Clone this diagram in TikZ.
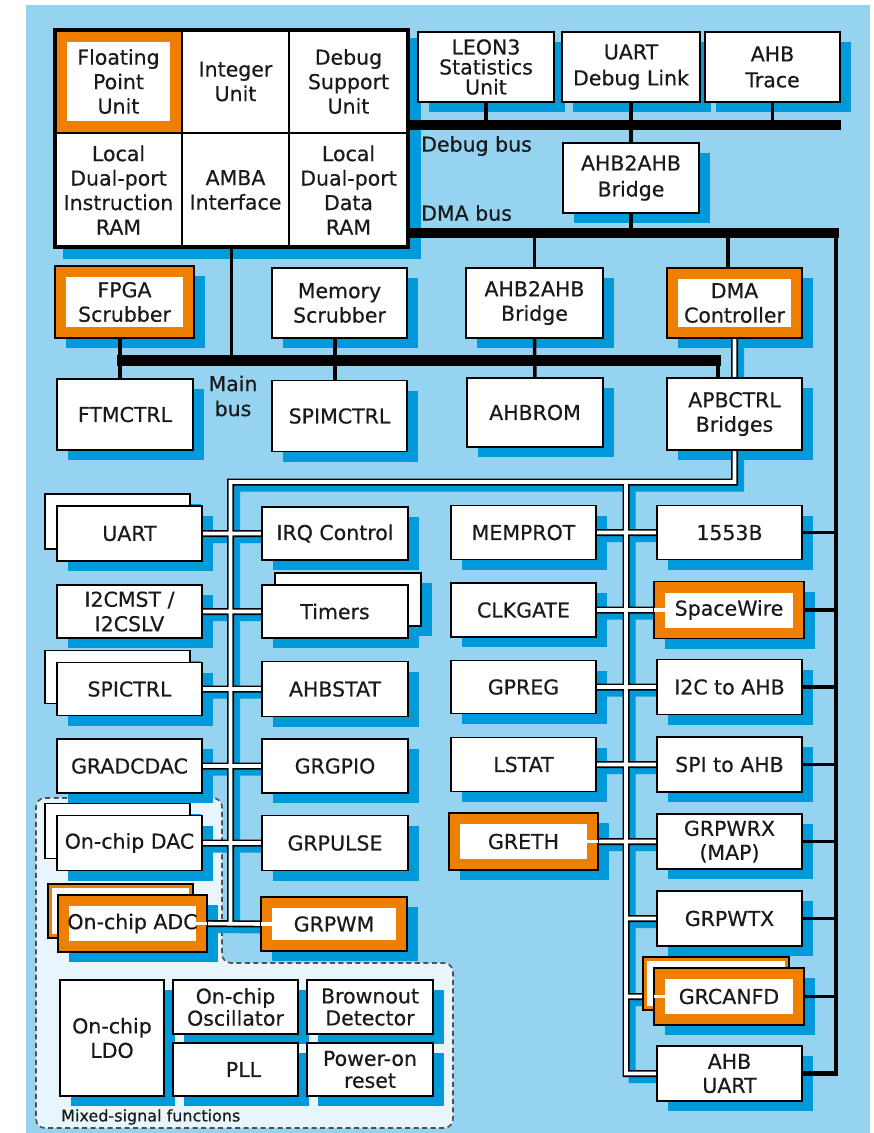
\documentclass[tikz,border=0pt]{standalone}
\usepackage{fontspec}
\setmainfont[FakeBold=0.5]{DejaVu Sans}
\usetikzlibrary{fit}

\definecolor{panel}{HTML}{96D3F0}
\definecolor{dropblue}{HTML}{0099D9}
\definecolor{grorange}{HTML}{EE7F00}
\definecolor{msfill}{HTML}{E8F5FC}
\definecolor{ink}{HTML}{1A1A1A}
\definecolor{dashgray}{HTML}{505050}

\pgfdeclarelayer{backdrop}
\pgfdeclarelayer{shadows}
\pgfdeclarelayer{wires}
\pgfsetlayers{backdrop,shadows,wires,main}

\tikzset{
  txt/.style={font=\fontsize{20.5}{24.5}\selectfont, text=ink},
  blk/.style={txt, draw=black, line width=1.8pt, fill=white, inner sep=0pt, outer sep=0pt, align=center},
  hotband/.style={path picture={\fill[white]
      ([shift={(#1,-#1)}]path picture bounding box.north west) rectangle
      ([shift={(-#1,#1)}]path picture bounding box.south east);}},
  hot/.style={blk, fill=grorange, hotband=11pt},
  hotback/.style={blk, fill=grorange, hotband=4pt},
  cell/.style={txt, draw=black, line width=2.8pt, fill=white, inner sep=0pt, outer sep=0pt, align=center},
  bus/.style={draw=black, line width=10pt},
  wire/.style={draw=black, line width=3.5pt},
  trunk/.style={draw=black, line width=4.8pt},
  apbedge/.style={draw=black, line width=7pt},
  apbcore/.style={draw=white, line width=3.6pt},
  apbshade/.style={draw=dropblue, line width=7pt},
  lbl/.style={txt, inner sep=0pt},
}

\begin{document}
\begin{tikzpicture}[x=1pt,y=-1pt]
\useasboundingbox (0,0) rectangle (874,1133);

% panel and mixed-signal area
\begin{pgfonlayer}{backdrop}
  \fill[white] (0,0) rectangle (874,1133);
  \fill[panel] (26,5) rectangle (870,1133);
  \filldraw[fill=msfill, draw=dashgray, line width=1.6pt, dash pattern=on 5pt off 3.5pt, rounded corners=9pt]
    (36,798) -- (222,798) -- (222,963) -- (453,963) -- (453,1128) -- (36,1128) -- cycle;
\end{pgfonlayer}

% processor core
\node[cell, hotband=12pt, fill=grorange, minimum width=127pt, minimum height=103pt] (fpu) at (118.5,81.5) {Floating\\Point\\Unit};
\node[cell, minimum width=107pt, minimum height=103pt] (iu) at (235.5,81.5) {Integer\\Unit};
\node[cell, minimum width=119pt, minimum height=103pt] (dsu) at (348.5,81.5) {Debug\\Support\\Unit};
\node[cell, minimum width=127pt, minimum height=114pt] (ilram) at (118.5,190) {Local\\Dual-port\\Instruction\\RAM};
\node[cell, minimum width=107pt, minimum height=114pt] (amba) at (235.5,190) {AMBA\\Interface};
\node[cell, minimum width=119pt, minimum height=114pt] (dlram) at (348.5,190) {Local\\Dual-port\\Data\\RAM};
\node[fit=(fpu)(dlram), inner sep=0pt, draw=black, line width=4.5pt] (cpu) {};

% debug side
\node[blk, minimum width=136pt, minimum height=70pt, font=\fontsize{20.5}{20}\selectfont] (leon) at (486,67) {LEON3\\Statistics\\Unit};
\node[blk, minimum width=138pt, minimum height=70pt, font=\fontsize{20.5}{26}\selectfont] (uartdl) at (631,67) {UART\\Debug Link};
\node[blk, minimum width=135pt, minimum height=70pt, font=\fontsize{20.5}{26}\selectfont] (ahbtrace) at (772.5,67) {AHB\\Trace};
\node[blk, minimum width=136pt, minimum height=70pt, font=\fontsize{20.5}{26}\selectfont] (bridge1) at (631,178) {AHB2AHB\\Bridge};

% main AHB masters and slaves
\node[hot, minimum width=139pt, minimum height=72pt] (fpga) at (124.5,302) {FPGA\\Scrubber};
\node[blk, minimum width=135pt, minimum height=70pt] (memscrub) at (339.5,303) {Memory\\Scrubber};
\node[blk, minimum width=137pt, minimum height=70pt] (bridge2) at (534.5,303) {AHB2AHB\\Bridge};
\node[hot, minimum width=135pt, minimum height=70pt] (dmactrl) at (734.5,303) {DMA\\Controller};
\node[blk, minimum width=136pt, minimum height=71pt] (ftmctrl) at (125,414.5) {FTMCTRL};
\node[blk, minimum width=135pt, minimum height=71pt] (spimctrl) at (339.5,416) {SPIMCTRL};
\node[blk, minimum width=136pt, minimum height=69pt] (ahbrom) at (535,412.5) {AHBROM};
\node[blk, minimum width=135pt, minimum height=72pt] (apbctrl) at (734.5,414) {APBCTRL\\Bridges};

% APB peripherals, left pair of columns
\node[blk, minimum width=145pt, minimum height=55pt] (uartB) at (117.5,521.5) {};
\node[blk, minimum width=145pt, minimum height=55pt] (uart) at (129.5,533.5) {UART};
\node[blk, minimum width=145pt, minimum height=53pt] (i2c) at (129.5,611.5) {I2CMST /\\I2CSLV};
\node[blk, minimum width=145pt, minimum height=53pt] (spictrlB) at (117.5,677) {};
\node[blk, minimum width=145pt, minimum height=53pt] (spictrl) at (129.5,689) {SPICTRL};
\node[blk, minimum width=145pt, minimum height=54pt] (gradcdac) at (129.5,766) {GRADCDAC};
\node[blk, minimum width=145pt, minimum height=55pt] (dacB) at (117.5,831) {};
\node[blk, minimum width=145pt, minimum height=55pt] (dac) at (129.5,843) {On-chip DAC};
\node[hotback, minimum width=145pt, minimum height=54pt] (adcB) at (120.5,911) {};
\node[hot, minimum width=149pt, minimum height=57pt] (adc) at (132.5,923.5) {On-chip ADC};

\node[blk, minimum width=146pt, minimum height=53pt] (irq) at (335,533.5) {IRQ Control};
\node[blk, minimum width=146pt, minimum height=53pt] (timersB) at (348,599.5) {};
\node[blk, minimum width=146pt, minimum height=53pt] (timers) at (335,611.5) {Timers};
\node[blk, minimum width=146pt, minimum height=55pt] (ahbstat) at (335,689) {AHBSTAT};
\node[blk, minimum width=146pt, minimum height=54pt] (grgpio) at (335,766) {GRGPIO};
\node[blk, minimum width=146pt, minimum height=55pt] (grpulse) at (335,843) {GRPULSE};
\node[hot, minimum width=146pt, minimum height=54pt] (grpwm) at (334,924) {GRPWM};

% APB peripherals, right pair of columns
\node[blk, minimum width=145pt, minimum height=54pt] (memprot) at (523.5,532.5) {MEMPROT};
\node[blk, minimum width=145pt, minimum height=54pt] (clkgate) at (523.5,610) {CLKGATE};
\node[blk, minimum width=145pt, minimum height=53pt] (gpreg) at (523.5,687) {GPREG};
\node[blk, minimum width=145pt, minimum height=54pt] (lstat) at (523.5,764.5) {LSTAT};
\node[hot, minimum width=149pt, minimum height=57pt] (greth) at (523.5,841.5) {GRETH};

\node[blk, minimum width=145pt, minimum height=54pt] (b1553) at (729.5,532.5) {1553B};
\node[hot, minimum width=150pt, minimum height=57pt] (spw) at (729,610) {SpaceWire};
\node[blk, minimum width=145pt, minimum height=55pt] (i2cahb) at (729.5,687) {I2C to AHB};
\node[blk, minimum width=145pt, minimum height=55pt] (spiahb) at (729.5,764.5) {SPI to AHB};
\node[blk, minimum width=145pt, minimum height=55pt, font=\fontsize{20.5}{24}\selectfont] (grpwrx) at (729.5,841.5) {GRPWRX\\(MAP)};
\node[blk, minimum width=145pt, minimum height=55pt] (grpwtx) at (729.5,918.5) {GRPWTX};
\node[hotback, minimum width=146pt, minimum height=53pt] (canB) at (716,983.5) {};
\node[hot, minimum width=150pt, minimum height=57pt] (grcanfd) at (729,996.5) {GRCANFD};
\node[blk, minimum width=145pt, minimum height=55pt, font=\fontsize{20.5}{24}\selectfont] (ahbuart) at (729.5,1073.5) {AHB\\UART};

% mixed-signal functions
\node[blk, minimum width=104pt, minimum height=116pt] (ldo) at (112,1038) {On-chip\\LDO};
\node[blk, minimum width=125pt, minimum height=54pt, font=\fontsize{20.5}{22}\selectfont] (osc) at (235.5,1007) {On-chip\\Oscillator};
\node[blk, minimum width=126pt, minimum height=54pt, font=\fontsize{20.5}{22}\selectfont] (brown) at (370,1007) {Brownout\\Detector};
\node[blk, minimum width=125pt, minimum height=53pt] (pll) at (235.5,1069.5) {\hspace*{16pt}PLL};
\node[blk, minimum width=126pt, minimum height=53pt, font=\fontsize{20.5}{22}\selectfont] (por) at (370,1069.5) {Power-on\\reset};

% labels
\node[lbl, anchor=west] (dbglbl) at (421,146) {Debug bus};
\node[lbl, anchor=west] (dmalbl) at (421,213) {DMA bus};
\node[lbl, align=center, font=\fontsize{20.5}{25}\selectfont] (mainlbl) at (233,396) {Main\\bus};
\node[lbl, anchor=west, font=\fontsize{16}{18}\selectfont] (mslbl) at (61,1117) {Mixed-signal functions};

% drop shadows
\begin{pgfonlayer}{shadows}
  \foreach \n in {cpu,leon,uartdl,ahbtrace,bridge1,fpga,memscrub,bridge2,dmactrl,
      ftmctrl,spimctrl,ahbrom,apbctrl,uartB,uart,i2c,spictrlB,spictrl,gradcdac,
      dacB,dac,adcB,adc,irq,timersB,timers,ahbstat,grgpio,grpulse,grpwm,
      memprot,clkgate,gpreg,lstat,greth,b1553,spw,i2cahb,spiahb,grpwrx,grpwtx,
      canB,grcanfd,ahbuart,ldo,osc,brown,pll,por}
    \fill[dropblue] ([shift={(10.5pt,-10pt)}]\n.north west) rectangle ([shift={(10.5pt,-10pt)}]\n.south east);
\end{pgfonlayer}

% bus anchor points
\coordinate (dbgR) at (841,125);
\coordinate (dmaE) at (838.5,233);
\coordinate (dmaR) at (836,233);
\coordinate (mainL) at (117,360);
\coordinate (mainR) at (721,360);
\coordinate (apbL) at (230.5,482);
\coordinate (apbLend) at (230.5,924);
\coordinate (apbR) at (626,482);

% APB net
\def\apbnet{
  (dmactrl.south) -- (apbctrl.north)
  (apbctrl.south) |- (apbL) -- (apbLend)
  (apbR) |- (ahbuart.west)
  (uart.east) -- (irq.west)
  (i2c.east) -- (timers.west)
  (spictrl.east) -- (ahbstat.west)
  (gradcdac.east) -- (grgpio.west)
  (dac.east) -- (grpulse.west)
  (adc.east) -- (grpwm.west)
  (memprot.east) -- (b1553.west)
  (clkgate.east) -- (spw.west)
  (gpreg.east) -- (i2cahb.west)
  (lstat.east) -- (spiahb.west)
  (greth.east) -- (grpwrx.west)
  (apbR |- grpwtx.west) -- (grpwtx.west)
  (apbR |- grcanfd.west) -- (grcanfd.west)
}

\begin{pgfonlayer}{shadows}
  \begin{scope}[transform canvas={shift={(6pt,-6pt)}}]
    \draw[apbshade] \apbnet;
  \end{scope}
\end{pgfonlayer}

\begin{pgfonlayer}{wires}
  % AHB buses
  \draw[bus] (cpu.east |- dbgR) -- (dbgR);
  \draw[bus] (cpu.east |- dmaE) -- (dmaE);
  \draw[bus, line width=11pt] (mainL) -- (mainR);
  % bus taps
  \draw[wire] (leon.south) -- (leon.south |- dbgR);
  \draw[wire] (uartdl.south) -- (bridge1.north);
  \draw[wire] (ahbtrace.south) -- (ahbtrace.south |- dbgR);
  \draw[wire] (bridge1.south) -- (bridge1.south |- dmaE);
  \draw[wire] (bridge2.north |- dmaE) -- (bridge2.north);
  \draw[wire] ([xshift=-6.5pt]dmactrl.north) -- ([xshift=-6.5pt]dmactrl.north |- dmaE);
  \draw[wire] (cpu.south) -- (cpu.south |- mainL);
  \draw[wire] ([xshift=-4.5pt]fpga.south) -- ([xshift=-4.5pt]fpga.south |- ftmctrl.north);
  \draw[wire] ([xshift=-4.5pt]memscrub.south) -- ([xshift=-4.5pt]memscrub.south |- spimctrl.north);
  \draw[wire] (bridge2.south) -- (ahbrom.north);
  \draw[wire, line width=4.5pt] ([xshift=-16.5pt]apbctrl.north) -- ([xshift=-16.5pt]apbctrl.north |- mainR);
  % DMA bus down the right side
  \draw[trunk] (dmaR) |- (ahbuart.east);
  \foreach \n in {b1553,spw,i2cahb,spiahb,grpwrx,grpwtx,grcanfd}
    \draw[wire] (\n.east) -- (\n.east -| dmaR);
  % APB net: outline then core
  \draw[apbedge] \apbnet;
  \draw[apbcore] \apbnet;
\end{pgfonlayer}

% APB core running through the orange frames
\draw[apbcore] (greth.east) -- ++(-12pt,0pt);
\draw[apbcore] (spw.west) -- ++(12pt,0pt);
\draw[apbcore] (grcanfd.west) -- ++(12pt,0pt);
\draw[apbcore] (grpwm.west) -- ++(12pt,0pt);
\draw[apbcore] (adc.east) -- ++(-12pt,0pt);
\end{tikzpicture}
\end{document}
